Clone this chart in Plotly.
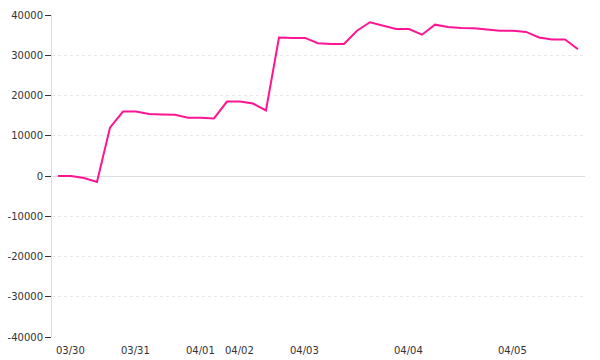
import plotly.graph_objects as go

# Series values (one per sample, evenly spaced on a category axis)
values = [
    0, 0, -500, -1500, 12000, 16000, 16000, 15400, 15300, 15200,
    14500, 14500, 14300, 18500, 18500, 18000, 16300, 34400, 34300, 34300,
    33000, 32800, 32800, 36100, 38200, 37300, 36500, 36500, 35100, 37600,
    37000, 36800, 36700, 36400, 36100, 36100, 35800, 34400, 33900, 33900,
    31500,
]
x_index = list(range(len(values)))

# Date tick labels and the sample index where each day starts
tick_labels = ["03/30", "03/31", "04/01", "04/02", "04/03", "04/04", "04/05"]
tick_index = [0, 5, 10, 13, 18, 26, 34]

y_ticks = [-40000, -30000, -20000, -10000, 0, 10000, 20000, 30000, 40000]

FONT = "DejaVu Sans"
label_shift = 0.95  # labels sit to the right of their day's first sample

fig = go.Figure()
fig.add_trace(go.Scatter(
    x=x_index, y=values, mode="lines",
    line=dict(color="#ff1493", width=2),
    hoverinfo="skip",
))

fig.update_layout(
    width=600, height=360,
    margin=dict(l=52, r=15, t=15, b=23),
    paper_bgcolor="white", plot_bgcolor="white",
    showlegend=False,
    font=dict(family=FONT, size=10, color="#333"),
)
fig.update_xaxes(
    range=[-0.46, len(values) - 1 + 0.54],
    tickvals=[i + label_shift for i in tick_index],
    ticktext=tick_labels,
    ticks="", showgrid=False, zeroline=False, showline=False,
    ticklabelstandoff=6, automargin=False,
    tickfont=dict(family=FONT, size=10, color="#333"),
)
fig.update_yaxes(
    range=[-40000, 40000],
    tickvals=y_ticks,
    ticktext=[str(v) for v in y_ticks],
    ticks="outside", ticklen=6, tickcolor="#333", tickwidth=1,
    showgrid=True, gridcolor="#e8e8e8", griddash="dot", gridwidth=1,
    zeroline=True, zerolinecolor="#dddddd", zerolinewidth=1,
    showline=True, linecolor="#dddddd", linewidth=1,
    automargin=False,
    tickfont=dict(family=FONT, size=10, color="#333"),
)

fig.write_html("out.html")
